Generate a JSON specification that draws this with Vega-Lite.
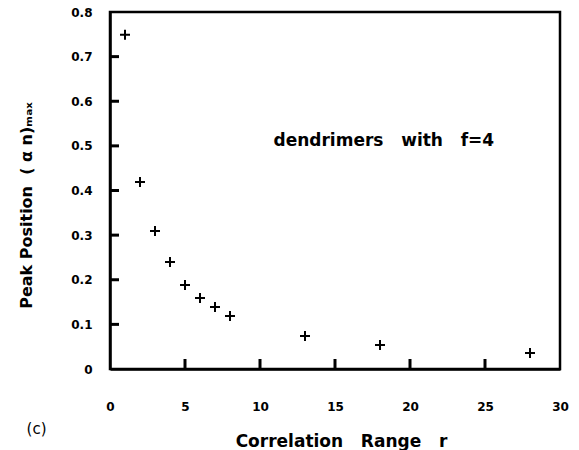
{
  "$schema": "https://vega.github.io/schema/vega-lite/v6.json",
  "width": 450,
  "height": 357,
  "autosize": "none",
  "padding": {"left": 110, "top": 12, "right": 19, "bottom": 81},
  "background": "white",
  "config": {
    "view": {"stroke": "black", "strokeWidth": 2.5},
    "font": "DejaVu Sans",
    "axis": {"grid": false, "domainColor": "black", "domainWidth": 2.5, "tickColor": "black", "tickWidth": 2.5, "labelColor": "black", "titleColor": "black", "labelFont": "DejaVu Sans", "titleFont": "DejaVu Sans", "labelFontWeight": "bold", "titleFontWeight": "bold"}
  },
  "datasets": {
    "pts": [
      {"r": 1, "peak": 0.749},
      {"r": 2, "peak": 0.419},
      {"r": 3, "peak": 0.309},
      {"r": 4, "peak": 0.240},
      {"r": 5, "peak": 0.188},
      {"r": 6, "peak": 0.159},
      {"r": 7, "peak": 0.139},
      {"r": 8, "peak": 0.119},
      {"r": 13, "peak": 0.074},
      {"r": 18, "peak": 0.054},
      {"r": 28, "peak": 0.036}
    ],
    "xticks": [{"r": 5, "peak": 0}, {"r": 10, "peak": 0}, {"r": 15, "peak": 0}, {"r": 20, "peak": 0}, {"r": 25, "peak": 0}],
    "yticks": [{"r": 0, "peak": 0.1}, {"r": 0, "peak": 0.2}, {"r": 0, "peak": 0.3}, {"r": 0, "peak": 0.4}, {"r": 0, "peak": 0.5}, {"r": 0, "peak": 0.6}, {"r": 0, "peak": 0.7}],
    "note1": [{"r": 10.9, "peak": 0.51, "label": "dendrimers\u00a0\u00a0\u00a0with\u00a0\u00a0\u00a0f=4"}],
    "note2": [{"r": -4.9, "peak": -0.135, "label": "(c)"}]
  },
  "layer": [
    {
      "data": {"name": "pts"},
      "mark": {"type": "point", "shape": "M-1,0H1M0,-1V1", "filled": false, "stroke": "black", "strokeWidth": 2, "size": 100, "opacity": 1},
      "encoding": {
        "x": {"field": "r", "type": "quantitative", "scale": {"domain": [0, 30], "nice": false, "zero": false},
          "axis": {"orient": "bottom", "values": [0, 5, 10, 15, 20, 25, 30], "ticks": false, "labelPadding": 32, "labelFontSize": 12, "labelFlush": false,
            "title": "Correlation\u00a0\u00a0\u00a0Range\u00a0\u00a0\u00a0r", "titleFontSize": 17, "titlePadding": 21, "titleX": 231}},
        "y": {"field": "peak", "type": "quantitative", "scale": {"domain": [0, 0.8], "nice": false, "zero": false},
          "axis": {"orient": "left", "values": [0, 0.1, 0.2, 0.3, 0.4, 0.5, 0.6, 0.7, 0.8], "ticks": false, "labelPadding": 18, "labelFontSize": 12, "labelFlush": false,
            "labelExpr": "datum.value == 0 ? '0' : format(datum.value, '.1f')",
            "title": "Peak\u00a0Position\u00a0\u00a0( α n)ₘₐₓ", "titleFontSize": 16, "titlePadding": 36, "titleY": 193}}
      }
    },
    {
      "data": {"name": "xticks"},
      "mark": {"type": "tick", "orient": "vertical", "size": 10, "thickness": 3, "yOffset": -5, "color": "black", "opacity": 1},
      "encoding": {
        "x": {"field": "r", "type": "quantitative"},
        "y": {"field": "peak", "type": "quantitative"}
      }
    },
    {
      "data": {"name": "yticks"},
      "mark": {"type": "rule", "color": "black", "strokeWidth": 3, "x2Offset": 9},
      "encoding": {
        "x": {"field": "r", "type": "quantitative"},
        "x2": {"field": "r"},
        "y": {"field": "peak", "type": "quantitative"}
      }
    },
    {
      "data": {"name": "note1"},
      "mark": {"type": "text", "align": "left", "baseline": "middle", "color": "black", "font": "DejaVu Sans", "fontWeight": "bold", "fontSize": 17},
      "encoding": {
        "x": {"field": "r", "type": "quantitative"},
        "y": {"field": "peak", "type": "quantitative"},
        "text": {"field": "label"}
      }
    },
    {
      "data": {"name": "note2"},
      "mark": {"type": "text", "align": "center", "baseline": "middle", "color": "black", "font": "DejaVu Sans", "fontSize": 15},
      "encoding": {
        "x": {"field": "r", "type": "quantitative"},
        "y": {"field": "peak", "type": "quantitative"},
        "text": {"field": "label"}
      }
    }
  ]
}
